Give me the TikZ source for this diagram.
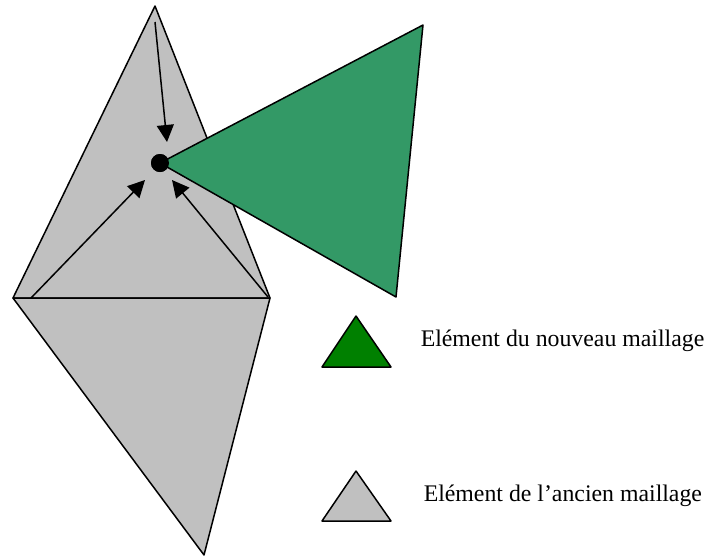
\documentclass[tikz,border=0pt]{standalone}
\usepackage{fontspec}
\setmainfont{Liberation Serif}
\usetikzlibrary{arrows.meta, positioning}
\definecolor{cgreen}{HTML}{339966}
\definecolor{cdkgreen}{HTML}{008000}
\definecolor{cgrey}{HTML}{C0C0C0}
\tikzset{
  every picture/.style={line width=0.75pt, line join=round},
  elem/.style={draw=black, fill=#1},
  elem/.default=cgrey,
  arrow/.style={-{Triangle[length=8.5pt, width=8.5pt]}, draw=black},
  legend/.style={font=\fontsize{11.9}{14}\selectfont, anchor=west, inner sep=0pt},
}

\begin{document}
\begin{tikzpicture}[x=0.5pt, y=-0.5pt]
  \useasboundingbox (0,0) rectangle (706,558);
  % vertices of the old mesh
  \coordinate (top) at (155,6);
  \coordinate (left) at (13,298);
  \coordinate (right) at (270,298);
  \coordinate (bot) at (204,555);
  % old elements
  \draw[elem] (left) -- (top) -- (right) -- cycle;
  \draw[elem] (left) -- (right) -- (bot) -- cycle;
  % new element
  \coordinate (g1) at (423,25);
  \coordinate (g2) at (396,297);
  \node[circle, fill=black, inner sep=0pt, minimum size=9pt] (pt) at (160,163) {};
  \draw[elem=cgreen] (pt.center) -- (g1) -- (g2) -- cycle;
  \node[circle, fill=black, inner sep=0pt, minimum size=9pt] at (pt) {};
  % projections onto the new node
  \coordinate (a1) at (155,22);
  \coordinate (a2) at (31,298);
  \coordinate (a3) at (268,297);
  \coordinate (e1) at (167,142);
  \coordinate (e2) at (145,180);
  \coordinate (e3) at (172,180);
  \draw[arrow] (a1) -- (e1);
  \draw[arrow] (a2) -- (e2);
  \draw[arrow] (a3) -- (e3);
  % legend
  \draw[elem=cdkgreen] (322,367) -- (356,316) -- (391,367) -- cycle;
  \node[legend] (lnew) at (420,341) {Elément du nouveau maillage};
  \draw[elem] (322,521) -- (356,471) -- (391,521) -- cycle;
  \node[legend] (lold) at (423,496) {Elément de l’ancien maillage};
\end{tikzpicture}
\end{document}
